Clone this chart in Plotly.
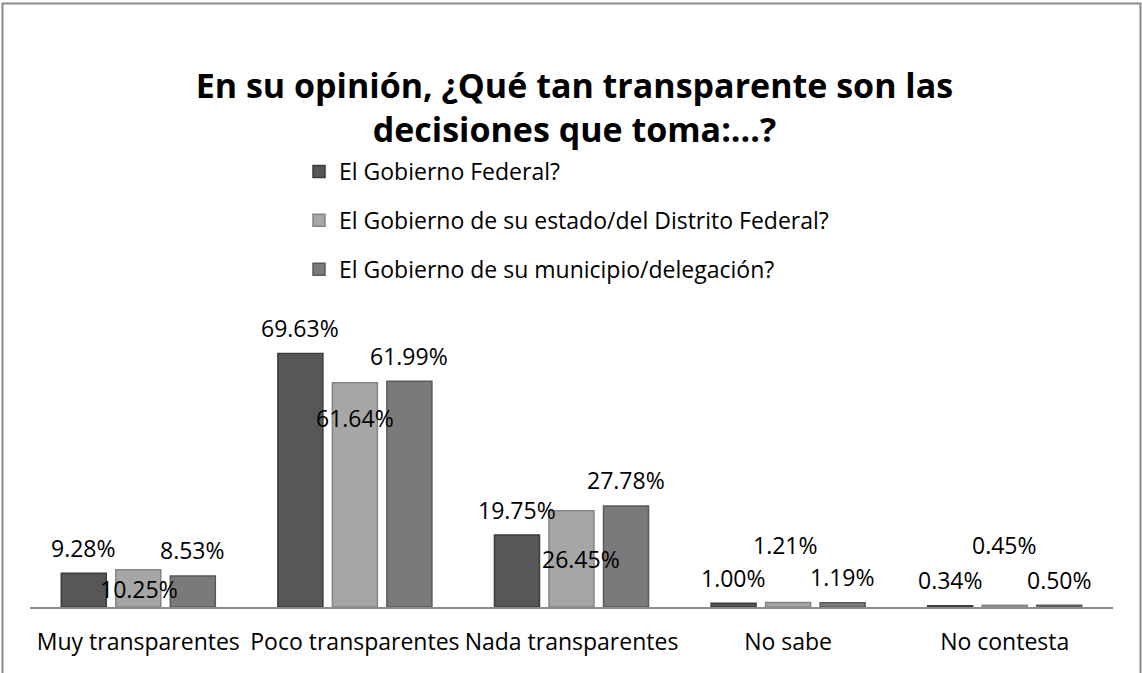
import plotly.graph_objects as go

categories = ["Muy transparentes", "Poco transparentes", "Nada transparentes", "No sabe", "No contesta"]
series_names = ["El Gobierno Federal?",
                "El Gobierno de su estado/del Distrito Federal?",
                "El Gobierno de su municipio/delegación?"]
federal = [9.28, 69.63, 19.75, 1.00, 0.34]
estatal = [10.25, 61.64, 26.45, 1.21, 0.45]
municipal = [8.53, 61.99, 27.78, 1.19, 0.50]
series_values = [federal, estatal, municipal]

# styling
fill_colors = ["#575757", "#a6a6a6", "#7a7a7a"]
line_colors = ["#3c3c3c", "#858585", "#5a5a5a"]
FONT = "Open Sans"
W, H = 1142, 673
ML, MR, MT, MB = 30, 29, 334, 66
YMAX = 75

# label offsets in pixels (series offset within the group, extra x, extra y)
group_offsets = [-54.5, 0, 54.5]
label_dx = [[0, 0, 0, 0, 0], [1, 0, 9, -3, 0], [0, 0, 0, 0, 0]]
label_dy = [[25.5] * 5, [-19.5, -35.5, -48, 58, 60], [25.5] * 5]

fig = go.Figure()
for i, (name, vals) in enumerate(zip(series_names, series_values)):
    fig.add_trace(go.Bar(
        x=categories, y=vals, name=name, legendgroup=f"g{i}",
        marker=dict(color=fill_colors[i], line=dict(color=line_colors[i], width=1.5)),
        hoverinfo="skip",
    ))

annotations = []
for i, vals in enumerate(series_values):
    for j, v in enumerate(vals):
        annotations.append(dict(
            x=categories[j], y=v, xref="x", yref="y",
            text=f"{v:.2f}%", showarrow=False,
            xshift=group_offsets[i] + label_dx[i][j], yshift=label_dy[i][j],
            xanchor="center", yanchor="middle",
            font=dict(family=FONT, size=23, color="#000000"),
        ))

pw = W - ML - MR
ph = H - MT - MB
def px_x(p):
    return (p - ML) / pw
def px_y(p):
    return (H - MB - p) / ph

shapes = [dict(type="rect", xref="paper", yref="paper",
               x0=px_x(2.5), x1=px_x(1140.5), y0=px_y(690), y1=px_y(3.5),
               line=dict(color="#8a8a8a", width=2), fillcolor="rgba(0,0,0,0)", layer="below")]

fig.update_layout(
    width=W, height=H,
    margin=dict(l=ML, r=MR, t=MT, b=MB, autoexpand=False),
    paper_bgcolor="white", plot_bgcolor="white",
    barmode="group", bargap=0.245, bargroupgap=0.174,
    title=dict(text="En su opinión, ¿Qué tan transparente son las<br>decisiones que toma:...?",
               x=0.503, xanchor="center", y=1 - 98 / H, yanchor="middle", yref="container",
               font=dict(family=FONT, size=34, color="#000000", weight="bold")),
    legend=dict(xref="container", yref="container", x=299 / W, y=1 - 150 / H,
                xanchor="left", yanchor="top", tracegroupgap=16,
                font=dict(family=FONT, size=23, color="#000000"),
                bgcolor="rgba(0,0,0,0)"),
    xaxis=dict(showgrid=False, showline=True, linecolor="#8c8c8c", linewidth=2,
               ticks="", ticklabelstandoff=13, tickangle=0, automargin=False,
               tickfont=dict(family=FONT, size=23, color="#000000")),
    yaxis=dict(range=[0, YMAX], visible=False, showgrid=False, zeroline=False, automargin=False),
    annotations=annotations,
    shapes=shapes,
    showlegend=True,
)

fig.write_html("out.html", config={"displayModeBar": False},
               post_script="document.body.style.margin='0';")
